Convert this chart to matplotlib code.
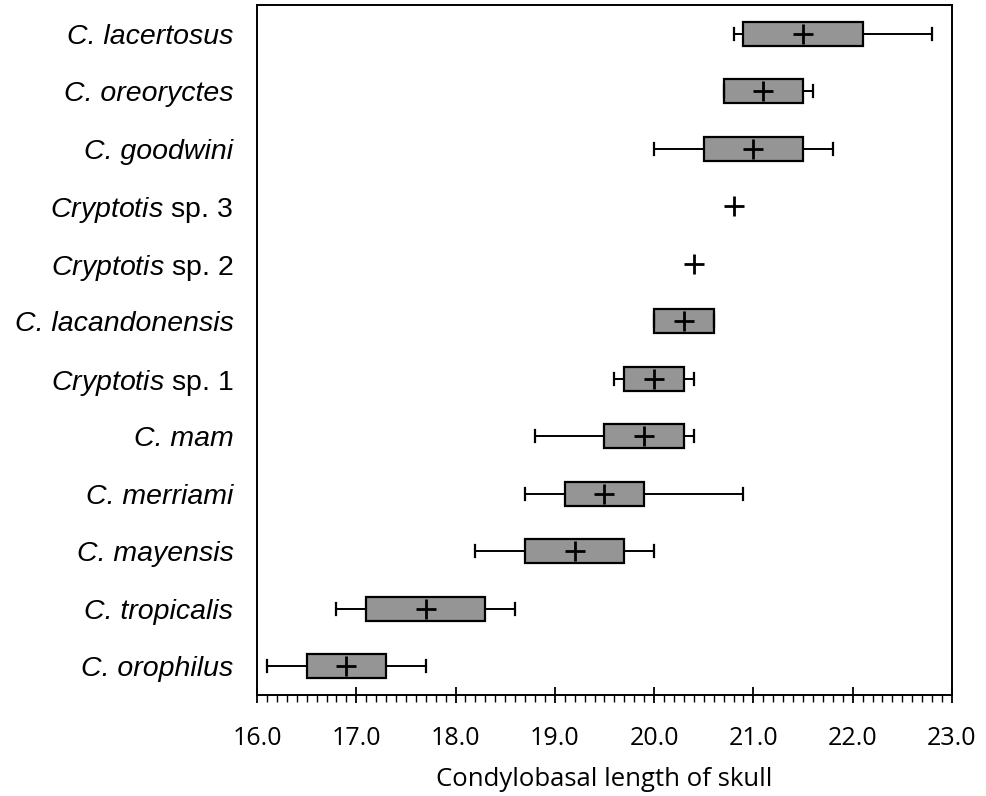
import numpy as np
import matplotlib
matplotlib.use('Agg')
import matplotlib.pyplot as plt
from matplotlib.ticker import MultipleLocator, FormatStrFormatter

plt.rcParams['mathtext.fontset'] = 'custom'
plt.rcParams['mathtext.it'] = 'Liberation Sans:italic'
plt.rcParams['mathtext.rm'] = 'Liberation Sans'

# species listed top to bottom
species = ['C. lacertosus', 'C. oreoryctes', 'C. goodwini',
           r'$\mathit{Cryptotis}$ sp. 3', r'$\mathit{Cryptotis}$ sp. 2',
           'C. lacandonensis', r'$\mathit{Cryptotis}$ sp. 1', 'C. mam',
           'C. merriami', 'C. mayensis', 'C. tropicalis', 'C. orophilus']

nan = np.nan
whis_lo = [20.8, 20.7, 20.0, nan, nan, 20.0, 19.6, 18.8, 18.7, 18.2, 16.8, 16.1]
q1 = [20.9, 20.7, 20.5, nan, nan, 20.0, 19.7, 19.5, 19.1, 18.7, 17.1, 16.5]
means = [21.5, 21.1, 21.0, 20.8, 20.4, 20.3, 20.0, 19.9, 19.5, 19.2, 17.7, 16.9]
q3 = [22.1, 21.5, 21.5, nan, nan, 20.6, 20.3, 20.3, 19.9, 19.7, 18.3, 17.3]
whis_hi = [22.8, 21.6, 21.8, nan, nan, 20.6, 20.4, 20.4, 20.9, 20.0, 18.6, 17.7]

n = len(species)
ypos = np.arange(n)[::-1]

stats = []
pos = []
for i in range(n):
    if np.isnan(q1[i]):
        continue
    stats.append(dict(whislo=whis_lo[i], q1=q1[i], med=means[i],
                      q3=q3[i], whishi=whis_hi[i]))
    pos.append(ypos[i])

fig = plt.figure(figsize=(9.87, 7.96), dpi=100)
ax = fig.add_axes([0.2604, 0.1269, 0.7041, 0.8668])

ax.bxp(stats, positions=pos, widths=0.42, capwidths=0.21,
       orientation='horizontal', patch_artist=True, showfliers=False,
       boxprops=dict(facecolor='#959595', edgecolor='black', linewidth=1.6),
       whiskerprops=dict(color='black', linewidth=1.4),
       capprops=dict(color='black', linewidth=1.6),
       medianprops=dict(linewidth=0))

# means drawn as crosses
ax.plot(means, ypos, linestyle='none', marker='+', markersize=15,
        markeredgewidth=2, color='black', zorder=5)

ax.set_xlim(16, 23)
ax.set_ylim(-0.5, n - 0.5)
ax.set_yticks(ypos)
ax.set_yticklabels(species, fontfamily='Liberation Sans', fontsize=20.5)
for lab in ax.get_yticklabels():
    if not lab.get_text().startswith('$'):
        lab.set_fontstyle('italic')
ax.tick_params(axis='y', length=0, pad=17)

ax.xaxis.set_major_locator(MultipleLocator(1))
ax.xaxis.set_minor_locator(MultipleLocator(0.1))
ax.xaxis.set_major_formatter(FormatStrFormatter('%.1f'))
ax.tick_params(axis='x', which='major', direction='inout', length=12,
               width=1.3, pad=16, labelsize=18)
ax.tick_params(axis='x', which='minor', direction='out', length=5, width=1)
for lab in ax.get_xticklabels():
    lab.set_fontfamily('Open Sans')
ax.set_xlabel('Condylobasal length of skull', fontfamily='Open Sans',
              fontsize=18.5, labelpad=12)

for s in ax.spines.values():
    s.set_linewidth(1.4)

fig.savefig('out.png', dpi=100)
